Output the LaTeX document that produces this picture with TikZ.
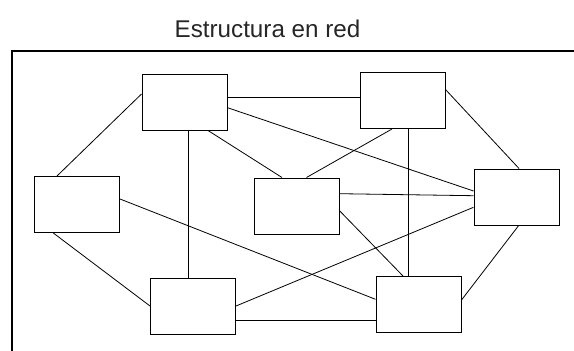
\documentclass[tikz,border=0pt]{standalone}
\usepackage{fontspec}
\setmainfont{Liberation Sans}
\begin{document}
\begin{tikzpicture}[x=1pt,y=-1pt,
  box/.style={draw, line width=1pt, minimum width=85pt, minimum height=56pt, inner sep=0pt},
  link/.style={line width=0.8pt},
  frame/.style={line width=1.2pt}]
\useasboundingbox (0,0) rectangle (574,351);
\node[anchor=base, font=\fontsize{24.2}{27}\selectfont, text=black!85] (title) at (267.5,37) {Estructura en red};
\draw[frame] (12,351) -- (12,51) -- (574,51);
\node[box] (A) at (184.5,102) {};
\node[box] (B) at (402.5,100.5) {};
\node[box] (C) at (77,204.5) {};
\node[box] (D) at (296.5,206) {};
\node[box] (E) at (516.5,197) {};
\node[box] (F) at (193,306) {};
\node[box] (G) at (418.5,304.5) {};
% connectors
\draw[link] ([yshift=8pt]A.west) -- ([xshift=-20pt]C.north);
\draw[link] ([yshift=4.5pt]A.east) -- ([yshift=4.5pt]A.east -| B.west);
\draw[link] ([yshift=-5.7pt]A.east) -- ([yshift=6pt]E.west);
\draw[link] ([xshift=3.5pt]A.south) -- ([xshift=3.5pt]A.south |- F.north);
\draw[link] ([xshift=23.5pt]A.south) -- ([xshift=-14.5pt]D.north);
\draw[link] ([xshift=-10.5pt]B.south) -- ([xshift=10pt]D.north);
\draw[link] ([xshift=5.5pt]B.south) -- ([xshift=5.5pt]B.south |- G.north);
\draw[link] ([yshift=11pt]B.east) -- ([xshift=2.5pt]E.north);
\draw[link] ([yshift=12.3pt]D.east) -- ([yshift=1.3pt]E.west);
\draw[link] ([yshift=-4.7pt]D.east) -- ([xshift=-15.5pt]G.north);
\draw[link] ([yshift=5.5pt]C.east) -- ([yshift=5.2pt]G.west);
\draw[link] ([xshift=-23.7pt]C.south) -- (F.west);
\draw[link] (F.east) -- ([yshift=-10.3pt]E.west);
\draw[link] ([yshift=-14.3pt]F.east) -- ([yshift=-14.3pt]F.east -| G.west);
\draw[link] ([xshift=2.2pt]E.south) -- ([yshift=4.5pt]G.east);
\end{tikzpicture}
\end{document}
